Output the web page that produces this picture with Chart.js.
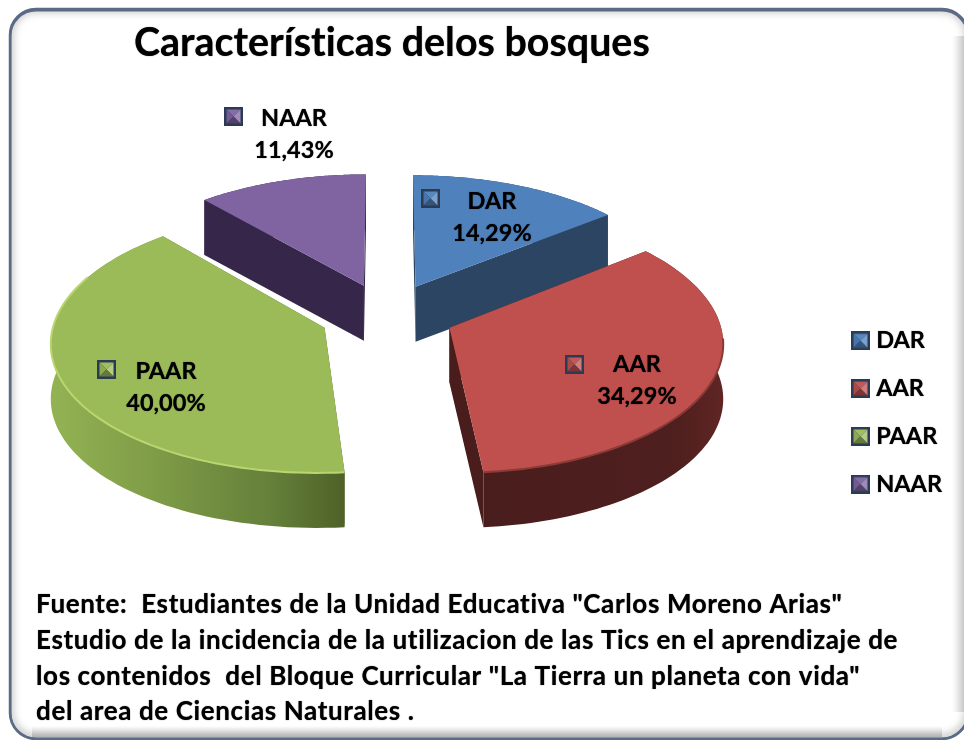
<!DOCTYPE html>
<html><head><meta charset="utf-8">
<style>html,body{margin:0;padding:0;background:#fff}canvas{display:block}</style>
<script src="https://cdn.jsdelivr.net/npm/chart.js@4"></script>
</head><body><canvas id="c" width="964" height="740"></canvas>
<script>
const categories = ["DAR","AAR","PAAR","NAAR"];
const values = [14.29,34.29,40.00,11.43];
const valueLabels = ["14,29%","34,29%","40,00%","11,43%"];
const topColors = ["#4f81bd","#c0504d","#9bbb59","#8064a2"];
const titleText = "Características delos bosques";
const footerLines = [
 'Fuente:  Estudiantes de la Unidad Educativa "Carlos Moreno Arias"',
 'Estudio de la incidencia de la utilizacion de las Tics en el aprendizaje de',
 'los contenidos  del Bloque Curricular "La Tierra un planeta con vida"',
 'del area de Ciencias Naturales .'];
const FONT = 'Lato, Carlito, sans-serif';

// drawing style
const view = {cx:387,cy:315,A:269,C:128,b:0.1,e:0.25,D:55};
const wallStops = [
 [[0,'#2c4562'],[1,'#2c4562']],
 [[0,'#4a1d1d'],[0.8,'#4e1f1e'],[1,'#5f2523']],
 [[0,'#93b353'],[0.35,'#7f9c47'],[0.75,'#64803a'],[1,'#4f6128']],
 [[0,'#36274a'],[1,'#36274a']]];
const edgeColors = ['#2c4562','#4a1d1d','#4f6128','#36274a'];
const rimColors = [null,'#8a3a37','#b9d670',null];
const rimStart = [0,20,-40,0];
const labelPos = [
 {sx:421,sy:189,tx:492,ty:201},
 {sx:565,sy:355,tx:637,ty:364},
 {sx:97,sy:360,tx:166,ty:371},
 {sx:224,sy:107,tx:294,ty:118}];
const drawOrder = [0,3,1,2];

function swatch(col){
  const S=19,c=document.createElement('canvas');c.width=S;c.height=S;
  const g=c.getContext('2d');
  g.fillStyle='#2b3a55';g.fillRect(0,0,S,S);
  const a=2.5,b=S-2.5,m=S/2;
  const shade=(k)=>{const n=parseInt(col.slice(1),16);
    const f=v=>Math.max(0,Math.min(255,Math.round(k<0?v*(1+k):v+(255-v)*k)));
    return `rgb(${f(n>>16)},${f((n>>8)&255)},${f(n&255)})`;};
  const tri=(p,k)=>{g.fillStyle=shade(k);g.beginPath();g.moveTo(p[0],p[1]);g.lineTo(p[2],p[3]);g.lineTo(m,m);g.closePath();g.fill();};
  tri([a,a,b,a],0.05);tri([b,a,b,b],0.25);tri([a,a,a,b],-0.1);tri([a,b,b,b],-0.35);
  return c;
}
const swatches = topColors.map(swatch);

function proj(X,Y,h){const v=view,w=1-v.b*Y;return [v.cx+v.A*X/w,v.cy+v.C*Y/w+(h||0)];}
function poly(ctx,pts){ctx.beginPath();pts.forEach((p,i)=>i?ctx.lineTo(p[0],p[1]):ctx.moveTo(p[0],p[1]));ctx.closePath();}

const pie3d = {
 id:'pie3d',
 beforeDraw(chart){
  const ctx=chart.ctx,x=10,y=9,w=958,h=730,r=26;
  ctx.letterSpacing='0.01px';
  ctx.save();ctx.fillStyle='#fff';ctx.fillRect(0,0,964,740);
  // soft inner shadow, heavier on the left, right and bottom sides
  ctx.save();
  ctx.beginPath();ctx.roundRect(x,y,w,h,r);ctx.clip();
  ctx.shadowColor='rgba(90,90,90,0.8)';ctx.shadowBlur=8;ctx.shadowOffsetY=-1;
  ctx.strokeStyle='#5b6b85';ctx.lineWidth=3;
  ctx.beginPath();ctx.roundRect(x,y+1,w,h-1,r);ctx.stroke();
  ctx.restore();
  let g=ctx.createLinearGradient(0,726,0,737);g.addColorStop(0,'rgba(170,170,170,0)');g.addColorStop(1,'rgba(150,150,150,0.6)');
  ctx.fillStyle=g;ctx.fillRect(32,726,910,11);
  g=ctx.createLinearGradient(952,0,964,0);g.addColorStop(0,'rgba(190,190,190,0)');g.addColorStop(1,'rgba(180,180,180,0.6)');
  ctx.fillStyle=g;ctx.fillRect(952,36,12,676);
  ctx.strokeStyle='#5b6b85';ctx.lineWidth=2.5;ctx.beginPath();ctx.roundRect(x,y,w,h,r);ctx.stroke();
  ctx.restore();
  ctx.shadowColor='rgba(0,0,0,0.75)';ctx.shadowBlur=1;
 },
 beforeDatasetDraw(chart,args){
  const ctx=chart.ctx,arcs=args.meta.data,v=view;
  ctx.save();ctx.shadowBlur=0;ctx.shadowColor='transparent';
  drawOrder.forEach(i=>{
   const a=arcs[i],t0=a.startAngle+Math.PI/2,t1=a.endAngle+Math.PI/2,tm=(t0+t1)/2;
   const ox=v.e*Math.sin(tm),oy=-v.e*Math.cos(tm);
   const top=[],bot=[],n=80;
   for(let k=0;k<=n;k++){const t=t0+(t1-t0)*k/n,X=ox+Math.sin(t),Y=oy-Math.cos(t);top.push(proj(X,Y,0));bot.push(proj(X,Y,v.D));}
   const ap=proj(ox,oy,0),apb=proj(ox,oy,v.D);
   ctx.fillStyle=edgeColors[i];
   poly(ctx,[ap,top[0],bot[0],apb]);ctx.fill();
   poly(ctx,[ap,top[n],bot[n],apb]);ctx.fill();
   const xs=top.concat(bot).map(p=>p[0]);
   const g=ctx.createLinearGradient(Math.min(...xs),0,Math.max(...xs),0);
   wallStops[i].forEach(s=>g.addColorStop(s[0],s[1]));
   ctx.fillStyle=g;poly(ctx,top.concat(bot.slice().reverse()));ctx.fill();
   ctx.fillStyle=topColors[i];poly(ctx,[ap].concat(top));ctx.fill();
   if(rimColors[i]){
    ctx.strokeStyle=rimColors[i];ctx.lineWidth=2;ctx.lineJoin='round';
    ctx.beginPath();
    let started=false;
    top.forEach(p=>{ if(p[1]>v.cy+rimStart[i]){ if(!started){ctx.moveTo(p[0],p[1]);started=true;} else ctx.lineTo(p[0],p[1]); }});
    ctx.stroke();
   }
  });
  ctx.restore();
  return false;
 },
 afterDraw(chart){
  const ctx=chart.ctx;
  ctx.save();ctx.fillStyle='#000';ctx.textBaseline='middle';
  ctx.font='bold 23.5px '+FONT;ctx.textAlign='center';
  labelPos.forEach((p,i)=>{
   ctx.drawImage(swatches[i],p.sx,p.sy);
   ctx.fillText(categories[i],p.tx,p.ty);
   ctx.fillText(valueLabels[i],p.tx,p.ty+32);
  });
  ctx.textAlign='left';ctx.font='bold 26px '+FONT;ctx.letterSpacing='0.62px';
  footerLines.forEach((l,i)=>ctx.fillText(l,36,605+i*35.6));
  ctx.restore();
 }
};

new Chart(document.getElementById('c'),{
 type:'pie',
 data:{labels:categories,datasets:[{data:values,backgroundColor:topColors,borderWidth:0}]},
 options:{
  responsive:false,animation:false,
  layout:{padding:{left:134,top:20,bottom:-65,right:12}},
  plugins:{
   tooltip:{enabled:false},
   title:{display:true,text:titleText,align:'start',color:'#000',
     font:{family:FONT,size:39.4,weight:'bold'},padding:{top:0,bottom:0}},
   legend:{position:'right',align:'center',
     labels:{color:'#000',font:{family:FONT,size:23.5,weight:'bold'},usePointStyle:true,pointStyleWidth:8,padding:24.3,
       generateLabels:()=>categories.map((c,i)=>({text:c,pointStyle:swatches[i],fontColor:'#000',datasetIndex:0,index:i,hidden:false}))}}
  }
 },
 plugins:[pie3d]
});
</script></body></html>
